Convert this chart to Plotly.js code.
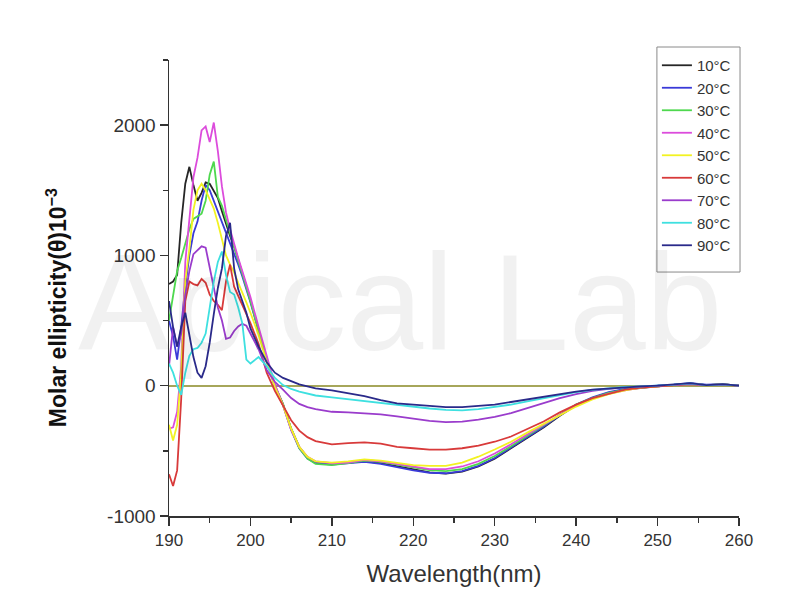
<!DOCTYPE html>
<html>
<head>
<meta charset="utf-8">
<script src="https://cdn.plot.ly/plotly-3.0.1.min.js"></script>
<style>
html,body{margin:0;padding:0;background:#fff;}
#chart{width:800px;height:600px;}
</style>
</head>
<body>
<div id="chart"></div>
<script>
const wavelength = [190,190.5,191,191.5,192,192.5,193,193.5,194,194.5,195,195.5,196,196.5,197,197.5,198,198.5,199,199.5,200,
  201,202,203,204,205,206,207,208,
  210,212,214,216,218,220,222,224,226,228,230,232,234,236,238,240,242,244,246,248,250,252,254,256,258,260];

const seriesNames = ["10°C","20°C","30°C","40°C","50°C","60°C","70°C","80°C","90°C"];

const t10 = [780,800,850,1250,1550,1680,1540,1420,1480,1560,1550,1500,1440,1340,1240,1150,1070,970,870,770,660,
  430,200,0,-140,-330,-470,-550,-590,
  -600,-590,-580,-595,-620,-645,-665,-675,-660,-620,-560,-480,-400,-320,-230,-150,-95,-55,-30,-15,-5,5,18,5,10,0];
const t20 = [500,380,200,450,760,1000,1170,1260,1420,1540,1500,1420,1340,1260,1180,1100,1020,930,840,740,640,
  420,190,-10,-150,-340,-480,-560,-595,
  -605,-595,-585,-600,-625,-650,-668,-672,-655,-615,-555,-475,-395,-315,-225,-145,-90,-50,-25,-10,0,8,20,8,12,0];
const t30 = [500,700,880,980,1100,1200,1280,1300,1320,1420,1620,1720,1450,1380,1270,1170,1060,960,860,760,650,
  420,200,0,-140,-330,-480,-560,-600,
  -610,-595,-575,-585,-605,-630,-648,-655,-640,-600,-540,-465,-385,-305,-220,-145,-95,-55,-30,-12,-5,5,15,5,10,0];
const t40 = [-330,-320,-200,150,950,1300,1600,1750,1960,1990,1870,2020,1800,1530,1330,1200,1080,980,880,780,680,
  450,220,10,-150,-340,-470,-545,-580,
  -595,-590,-570,-580,-600,-620,-640,-640,-620,-580,-520,-450,-375,-300,-220,-150,-100,-60,-35,-15,-5,5,15,5,10,0];
const t50 = [-300,-420,-300,100,800,1050,1350,1500,1550,1500,1430,1360,1250,1130,1000,930,870,790,720,640,560,
  390,180,-10,-150,-330,-470,-545,-580,
  -590,-580,-565,-575,-595,-610,-615,-615,-590,-545,-490,-430,-360,-295,-225,-160,-105,-65,-35,-15,-5,5,12,5,10,0];
const t60 = [-680,-770,-650,-100,650,800,780,770,820,790,700,650,620,580,800,930,760,690,620,560,480,
  320,100,-40,-150,-265,-345,-395,-425,
  -450,-440,-435,-445,-470,-480,-490,-490,-480,-460,-430,-390,-335,-275,-205,-145,-95,-60,-30,-15,-5,5,12,5,8,0];
const t70 = [150,450,300,400,700,880,1010,1040,1070,1060,900,740,600,500,360,370,420,455,475,460,400,
  280,120,30,-30,-95,-140,-165,-180,
  -200,-205,-210,-220,-235,-255,-270,-280,-275,-260,-240,-210,-170,-130,-95,-65,-40,-25,-12,-5,0,5,12,5,8,0];
const t80 = [170,100,0,-70,100,230,280,290,330,400,600,800,950,1030,850,720,700,600,480,200,170,
  220,150,60,5,-25,-45,-60,-75,
  -90,-105,-115,-130,-150,-160,-175,-185,-190,-180,-165,-145,-120,-95,-70,-50,-32,-20,-10,-5,0,8,18,5,10,0];
const t90 = [650,450,300,450,560,380,220,100,60,150,330,550,750,900,1150,1250,900,740,650,560,440,
  300,180,100,60,35,10,-5,-20,
  -35,-55,-80,-110,-135,-145,-155,-165,-165,-155,-145,-125,-105,-85,-62,-45,-30,-20,-10,-5,0,8,20,5,12,0];

const xTicks = [190,200,210,220,230,240,250,260];
const yTicks = [-1000,0,1000,2000];

const allSeries = [t10,t20,t30,t40,t50,t60,t70,t80,t90];
const colors = ["#262626","#3a3ad8","#4ed84e","#dc4cdc","#f2f222","#d83a3a","#9a3ccc","#3ee0e0","#2a2a8a"];

const traces = allSeries.map((ys, i) => ({
  x: wavelength,
  y: ys,
  type: "scatter",
  mode: "lines",
  name: seriesNames[i],
  legendgroup: "g" + i,
  line: {color: colors[i], width: 1.8}
}));

const font = "Liberation Sans, Arial, sans-serif";

const layout = {
  width: 800,
  height: 600,
  margin: {l: 169, r: 61, t: 60, b: 84},
  paper_bgcolor: "#ffffff",
  plot_bgcolor: "#ffffff",
  font: {family: font, color: "#333333"},
  showlegend: true,
  legend: {
    x: 0.856, y: 1.0241, xanchor: "left", yanchor: "top",
    borderwidth: 0, bgcolor: "rgba(0,0,0,0)",
    font: {family: font, size: 15, color: "#333333"},
    traceorder: "grouped", tracegroupgap: 0,
    itemwidth: 30
  },
  shapes: [{
    type: "rect", xref: "paper", yref: "paper",
    x0: 0.856, x1: 1.0018, y0: 0.535, y1: 1.0285,
    line: {color: "#8a8a8a", width: 1}, fillcolor: "rgba(0,0,0,0)", layer: "above"
  }],
  xaxis: {
    range: [190, 260],
    tickvals: xTicks,
    ticktext: xTicks.map(String),
    ticks: "outside", ticklen: 8, tickwidth: 1.5, tickcolor: "#333",
    minor: {dtick: 5, tick0: 190, ticks: "outside", ticklen: 5, tickwidth: 1.5, tickcolor: "#333", showgrid: false},
    showline: true, linecolor: "#333", linewidth: 1.5,
    showgrid: false, zeroline: false,
    tickfont: {family: font, size: 17, color: "#333"},
    title: {text: "Wavelength(nm)", font: {family: font, size: 24, color: "#333"}, standoff: 16}
  },
  yaxis: {
    range: [-1000, 2500],
    tickvals: yTicks,
    ticktext: yTicks.map(String),
    ticks: "outside", ticklen: 8, tickwidth: 1.5, tickcolor: "#333",
    minor: {dtick: 500, tick0: 0, ticks: "outside", ticklen: 5, tickwidth: 1.5, tickcolor: "#333", showgrid: false},
    showline: true, linecolor: "#333", linewidth: 1.5,
    showgrid: false,
    zeroline: true, zerolinecolor: "#a6a65a", zerolinewidth: 2,
    tickfont: {family: font, size: 19, color: "#333"}
  },
  annotations: [{
    text: "Apical Lab", xref: "paper", yref: "paper", x: 0.405, y: 0.47,
    xanchor: "center", yanchor: "middle", showarrow: false,
    font: {family: font, size: 138, color: "rgba(0,0,0,0.055)"}
  }, {
    text: "<b>Molar ellipticity(θ)10<sup>−3</sup></b>", xref: "paper", yref: "paper",
    x: -0.1965, y: 0.458, xanchor: "center", yanchor: "middle", textangle: -90, showarrow: false,
    font: {family: font, size: 23, color: "#111"}
  }]
};

Plotly.newPlot("chart", traces, layout, {displayModeBar: false, staticPlot: true});
</script>
</body>
</html>
